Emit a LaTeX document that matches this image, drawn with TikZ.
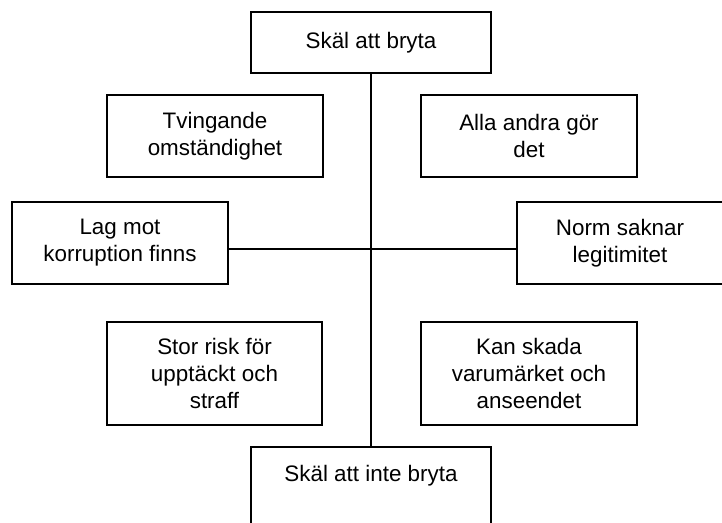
\documentclass[tikz,border=0pt]{standalone}
\usepackage{fontspec}
\setmainfont{Liberation Sans}
\usepackage{tikz}
\usetikzlibrary{positioning}
\tikzstyle{reason} = [rectangle, draw=black, line width=1pt, align=center, inner sep=0pt, minimum width=108pt, minimum height=41pt, font=\fontsize{11.2}{13.5}\selectfont]
\tikzstyle{link} = [line width=1pt]

\begin{document}
\begin{tikzpicture}[x=0.5pt, y=-0.5pt]
\clip (0,0) rectangle (722,523);
\node[reason, minimum width=120pt, minimum height=30.5pt] (pro) at (371,42.5) {Skäl att bryta};
\node[reason] (tvang) at (215,136) {Tvingande\\omständighet};
\node[reason, right=48pt of tvang] (alla) {Alla andra gör\\det};
\node[reason] (lag) at (120,243) {Lag mot\\korruption finns};
\node[reason, minimum width=103pt, right=143.5pt of lag] (norm) {Norm saknar\\legitimitet};
\node[reason, minimum width=107.5pt, minimum height=51.5pt] (risk) at (214.5,373.5) {Stor risk för\\upptäckt och\\straff};
\node[reason, minimum height=51.5pt, right=48.5pt of risk] (varum) {Kan skada\\varumärket och\\anseendet};
\node[reason, minimum width=120pt, anchor=north, text height=13.3pt, text depth=45pt, inner ysep=3.7pt] (contra) at (371,446) {Skäl att inte bryta};

\coordinate (mid) at (371,249);
\draw[link] (pro.south) -- (contra.north);
\draw[link] (lag.east |- mid) -- (norm.west |- mid);
\end{tikzpicture}
\end{document}
